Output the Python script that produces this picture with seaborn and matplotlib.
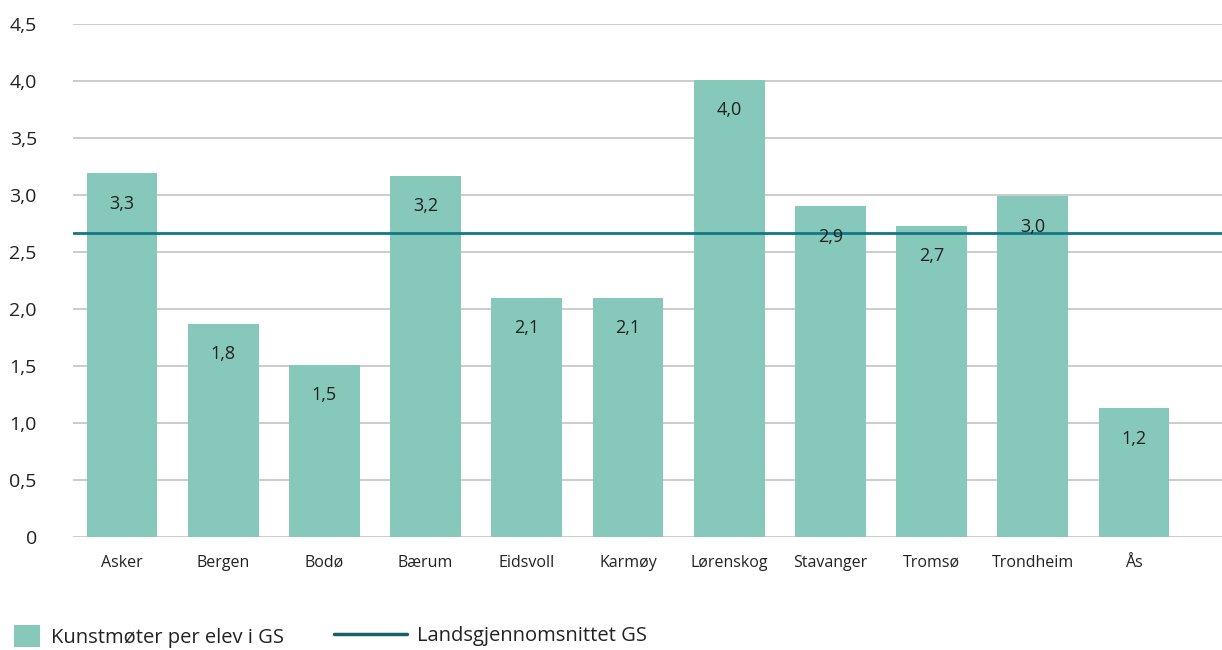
import matplotlib
matplotlib.use("Agg")
import matplotlib.pyplot as plt
import seaborn as sns
from matplotlib.patches import Patch
from matplotlib.lines import Line2D

# Data
kommuner = ["Asker", "Bergen", "Bodø", "Bærum", "Eidsvoll", "Karmøy",
            "Lørenskog", "Stavanger", "Tromsø", "Trondheim", "Ås"]
kunstmoter = [3.19, 1.87, 1.51, 3.17, 2.10, 2.10, 4.01, 2.90, 2.73, 2.99, 1.13]
verdi_etiketter = ["3,3", "1,8", "1,5", "3,2", "2,1", "2,1", "4,0", "2,9", "2,7", "3,0", "1,2"]
landssnitt = 2.67
y_ticks = [0, 0.5, 1.0, 1.5, 2.0, 2.5, 3.0, 3.5, 4.0, 4.5]
y_tick_labels = ["0", "0,5", "1,0", "1,5", "2,0", "2,5", "3,0", "3,5", "4,0", "4,5"]

bar_color = "#86c8b9"
line_color = "#137885"
text_color = "#222222"

sns.set_style("white")
plt.rcParams['font.family'] = ['Open Sans', 'DejaVu Sans']

fig = plt.figure(figsize=(12.22, 6.5), dpi=100)
ax = fig.add_axes([0.0597, 0.174, 0.9403, 0.789])

sns.barplot(x=kommuner, y=kunstmoter, color=bar_color, width=0.7,
            saturation=1, linewidth=0, ax=ax, zorder=2)

ax.axhline(landssnitt, color=line_color, linewidth=2, zorder=3)

# value labels inside the bars
for i, (h, lab) in enumerate(zip(kunstmoter, verdi_etiketter)):
    ax.annotate(lab, (i, h), xytext=(0, -22), textcoords="offset points",
                ha="center", va="center", fontsize=13, fontweight="medium",
                color=text_color, zorder=4)

ax.set_ylim(0, 4.5)
ax.set_xlim(-0.485, 10.87)
ax.set_yticks(y_ticks)
ax.set_yticklabels(y_tick_labels, fontsize=14, fontweight="medium", color=text_color)
ax.tick_params(axis="x", labelsize=11.5, colors=text_color, length=0, pad=13)
ax.tick_params(axis="y", length=0, pad=26)
for lbl in ax.get_xticklabels():
    lbl.set_fontweight("medium")
ax.yaxis.grid(True, color="#c4c4c4", linewidth=1.2, zorder=0)
ax.set_axisbelow(True)
for s in ax.spines.values():
    s.set_visible(False)

leg1 = fig.legend(handles=[Patch(facecolor=bar_color, edgecolor="none",
                                 label="Kunstmøter per elev i GS")],
                  loc="center left", bbox_to_anchor=(0.0, 0.021), frameon=False,
                  fontsize=14.5, handlelength=1.3, handleheight=1.3,
                  handletextpad=0.55, labelcolor=text_color, borderaxespad=0.3)
leg2 = fig.legend(handles=[Line2D([0], [0], color="#17606a", linewidth=2.5,
                                  label="Landsgjennomsnittet GS")],
                  loc="center left", bbox_to_anchor=(0.262, 0.021), frameon=False,
                  fontsize=14.5, handlelength=3.6, handletextpad=0.5,
                  labelcolor=text_color, borderaxespad=0.3)

fig.savefig("out.png", dpi=100)
